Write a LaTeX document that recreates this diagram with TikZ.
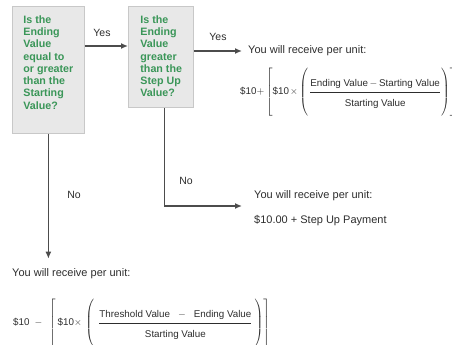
\documentclass[tikz,border=0pt]{standalone}
\usepackage{fontspec}
\usepackage{amsmath}
\setmainfont{Liberation Sans}
\usetikzlibrary{arrows.meta}
\definecolor{boxgreen}{RGB}{58,150,88}
\definecolor{boxfill}{RGB}{232,232,232}
\definecolor{boxline}{RGB}{200,200,200}
\definecolor{ink}{RGB}{45,45,45}
\tikzset{
    qbox/.style={draw=boxline, fill=boxfill, line width=0.8pt, anchor=north west,
        inner sep=0pt, font=\fontsize{10.7}{12.3}\selectfont\bfseries, text=boxgreen},
    arr/.style={draw=ink!85, line width=1.3pt, -{Latex[length=7pt,width=6pt]}},
    lbl/.style={font=\fontsize{10.5}{12}\selectfont, text=ink},
    outtxt/.style={font=\fontsize{11}{13}\selectfont, text=ink, anchor=west, inner sep=0pt, align=left},
    formula/.style={font=\fontsize{9.8}{11}\selectfont, text=ink, anchor=west, inner sep=0pt}
}
\newcommand{\tallstrut}{\vrule height 24pt depth 24pt width 0pt}
\newcommand{\numstrut}{\rule[-4pt]{0pt}{4pt}}
\newcommand{\denstrut}{\rule{0pt}{13pt}}
\begin{document}
\begin{tikzpicture}[x=1pt,y=-1pt]
    \useasboundingbox (0,0) rectangle (452,345);

    % Question boxes
    \node[qbox, minimum width=72pt, minimum height=127pt] (q1) at (12,6)
        {\parbox[c][127pt][t]{72pt}{\vspace{9pt}\hspace*{11pt}\parbox[t]{60pt}{\raggedright
        Is the\\Ending\\Value\\equal to\\or greater\\than the\\Starting\\Value?}}};
    \node[qbox, minimum width=65pt, minimum height=101pt] (q2) at (128,6)
        {\parbox[c][101pt][t]{65pt}{\vspace{9pt}\hspace*{12pt}\parbox[t]{52pt}{\raggedright
        Is the\\Ending\\Value\\greater\\than the\\Step Up\\Value?}}};

    % Outcomes
    \node[outtxt] (out1) at (248,51) {You will receive per unit:};
    \node[formula] (f1) at (240,93)
        {$\text{\$10}{+}\left[\tallstrut\text{\$10}\hspace{1pt}{\times}\left(\tallstrut\hspace{1pt}
        \dfrac{\text{Ending Value}\,{-}\,\text{Starting Value}\numstrut}{\denstrut\text{Starting Value}}\right)\right]$};
    \node[outtxt] (out2) at (254,208.5) {You will receive per unit:\\[12pt]\$10.00 + Step Up Payment};
    \node[outtxt] (out3) at (12,274) {You will receive per unit:};
    \node[formula] (f3) at (13,324)
        {$\text{\$10}\hspace{5pt}{-}\hspace{5pt}\left[\tallstrut\hspace{2pt}\text{\$10}{\times}\hspace{2pt}\left(\tallstrut\hspace{4pt}
        \dfrac{\text{Threshold Value}\hspace{8pt}{-}\hspace{8pt}\text{Ending Value}\numstrut}{\denstrut\text{Starting Value}}\hspace{2pt}\right)\right]$};

    % Labels
    \node[lbl] (yes1) at (102,33) {Yes};
    \node[lbl] (yes2) at (218,37) {Yes};
    \node[lbl] (no1) at (74,195) {No};
    \node[lbl] (no2) at (186,181) {No};

    % Connectors
    \coordinate (yesrow) at (0,46);
    \draw[arr] (q1.east |- yesrow) -- (q2.west |- yesrow);
    \draw[arr] (q2.east |- out1.west) -- ([xshift=-6pt]out1.west);
    \draw[arr] ([xshift=3.5pt]q2.south) |- ([xshift=-12pt,yshift=2.5pt]out2.west);
    \draw[arr] (q1.south) -- ([yshift=10pt]q1.south |- out3.north);
\end{tikzpicture}
\end{document}
